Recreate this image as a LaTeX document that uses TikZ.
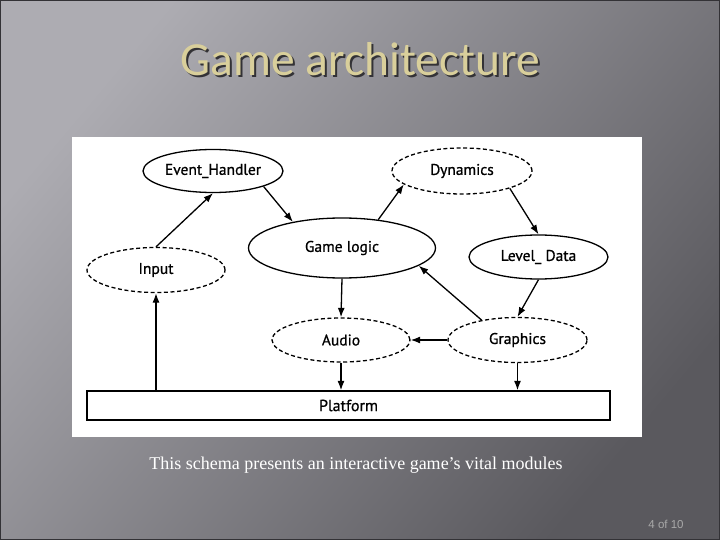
\documentclass[tikz,border=0pt]{standalone}
\usepackage{fontspec}
\usetikzlibrary{shapes.geometric,arrows.meta}
\newfontfamily\dfont[FakeBold=0.8]{PT Sans}
\newfontfamily\tfont{Carlito}
\newfontfamily\cfont{Liberation Serif}
\newfontfamily\pfont{Liberation Sans}
\definecolor{bgl}{HTML}{ADACB2}
\definecolor{bgm}{HTML}{78777C}
\definecolor{bgd}{HTML}{5A595E}
\definecolor{titlec}{HTML}{D9CF9B}
\definecolor{shadowc}{HTML}{333236}
\definecolor{pagec}{HTML}{A9A9A9}
\tikzset{
  mod/.style={ellipse,draw=black,line width=1.3pt,inner sep=0pt,font=\dfont\fontsize{15.5}{17}\selectfont,text=black},
  dmod/.style={mod,dash pattern=on 4pt off 2.6pt},
  conn/.style={line width=1.3pt,-{Latex[length=9.5pt,width=7pt]}},
}
\begin{document}
\begin{tikzpicture}[x=1pt,y=-1pt]
\useasboundingbox (0,0) rectangle (720,540);
\shade[top color=bgl,middle color=bgm,bottom color=bgd,shading angle=50] (0,0) rectangle (720,540);
\draw[shadowc,line width=1pt] (0.5,0.5) rectangle (719.5,539.5);
% title with shadow
\node[font=\tfont\fontsize{47.5}{50}\selectfont,text=titlec] (title) at (360,60)
  {\makebox[0pt][l]{\raisebox{-2.5pt}{\hspace{2.5pt}\textcolor{shadowc}{Game architecture}}}Game architecture};
% white panel
\fill[white] (72,137) rectangle (642,437);
% modules
\node[mod,minimum width=140pt,minimum height=43pt] (eh) at (213,171) {Event\_Handler};
\node[dmod,minimum width=140pt,minimum height=46pt] (dyn) at (462,171) {Dynamics};
\node[mod,minimum width=187pt,minimum height=60pt] (gl) at (342,248) {Game logic};
\node[mod,minimum width=139pt,minimum height=44pt] (ld) at (538.5,257) {Level\_ Data};
\node[dmod,minimum width=138pt,minimum height=45pt] (in) at (156,270) {Input};
\node[dmod,minimum width=138pt,minimum height=44pt] (au) at (341,340) {Audio};
\node[dmod,minimum width=139pt,minimum height=45pt] (gr) at (517.5,340) {Graphics};
\node[draw=black,line width=1.3pt,minimum width=523pt,minimum height=29pt,inner sep=0pt,font=\dfont\fontsize{16}{18}\selectfont] (pf) at (348.5,405.5) {Platform};
% connectors
\draw[conn] (in.north) -- (eh.south);
\draw[conn] (eh.-17) -- (gl.152);
\draw[conn] (gl.38) -- (dyn.-167);
\draw[conn] (dyn.-20) -- (ld.north);
\draw[conn] (ld.south) -- (gr.north);
\draw[conn] (gr.151) -- (gl.-13);
\draw[conn] (gr.west) -- (au.east);
\draw[conn] (gl.south) -- (au.north);
\draw[conn] (au.south) -- (au.south |- pf.north);
\draw[conn] (gr.south) -- (gr.south |- pf.north);
\draw[conn] (in.south |- pf.north) -- (in.south);
% caption
\node[font=\cfont\fontsize{18}{20}\selectfont,text=white] (cap) at (356,465) {This schema presents an interactive game’s vital modules};
\node[font=\pfont\fontsize{11.5}{13}\selectfont,text=pagec] (pg) at (666,524) {4 of 10};
\end{tikzpicture}
\end{document}
